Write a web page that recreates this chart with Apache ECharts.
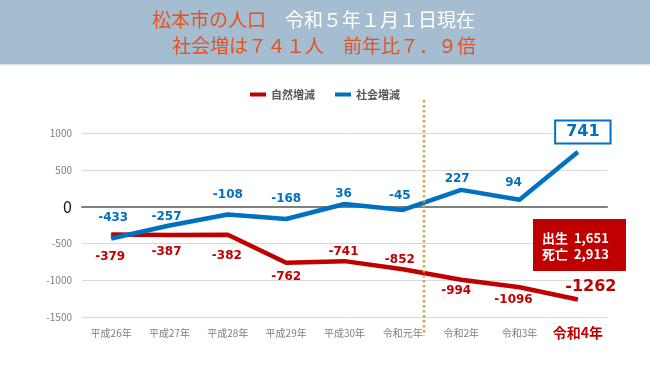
<!DOCTYPE html>
<html><head><meta charset="utf-8">
<script src="https://cdn.jsdelivr.net/npm/echarts@6/dist/echarts.min.js"></script>
<style>html,body{margin:0;padding:0;background:#fff}#c{width:650px;height:365px}</style>
</head><body><div id="c"></div>
<script>
// ---- data ----
const categories = ['平成26年','平成27年','平成28年','平成29年','平成30年','令和元年','令和2年','令和3年','令和4年'];
const naturalChange = [-379, -387, -382, -762, -741, -852, -994, -1096, -1262];
const socialChange = [-433, -257, -108, -168, 36, -45, 227, 94, 741];
const yMin = -1500, yMax = 1000, yInterval = 500;
const seriesNames = ['自然増減', '社会増減'];
const birthsText = '1,651';
const deathsText = '2,913';
const titleLine1a = '松本市の人口';
const titleLine1b = '令和５年１月１日現在';
const titleLine2 = '社会増は７４１人　前年比７．９倍';
const dividerAt = 5.363;           // position (in category index units) of the dotted divider
const dividerSpan = [1450, -1750]; // vertical extent of the divider in axis units

// ---- styles (label offsets, not data) ----
const blueOffsets = [[2,-21],[-3,-9],[0,-20],[0,-20],[-1,-10],[-3,-14],[-4,-11],[-6,-17],[5,-20]];
const redOffsets  = [[-1,22],[-3,17],[-1,21],[0,14],[-1,-9],[-3,-9],[-5,11],[-6,13],[13,-13]];
const RED = '#c00000', BLUE = '#0070c0';
const NUMFONT = 'DejaVu Sans';
const CJK = '"Noto Sans CJK JP"';

const chart = echarts.init(document.getElementById('c'), null, {renderer:'canvas'});

function labelItems(values, offsets, color, lastStyle) {
  return values.map((v, i) => {
    const lab = {show:true, position:'inside', offset:offsets[i], color:color,
      fontFamily:NUMFONT, fontWeight:'bold', fontSize:12};
    if (i === values.length - 1 && lastStyle) Object.assign(lab, lastStyle);
    return {value:v, label:lab};
  });
}

const option = {
  animation:false,
  textStyle:{fontFamily:CJK},
  legend:{
    top:84, left:'center', data:seriesNames, icon:'rect', itemWidth:16, itemHeight:4, itemGap:20,
    textStyle:{color:'#595959', fontSize:11, fontWeight:'bold', fontFamily:CJK}
  },
  grid:{left:82, right:43, top:133, bottom:48},
  xAxis:[
    {type:'category', data:categories.map((c,i)=> i===categories.length-1 ?
        {value:c, textStyle:{color:RED, fontSize:14, fontWeight:'bold', fontFamily:CJK, lineHeight:14}} : c),
     boundaryGap:true,
     axisLabel:{color:'#7f7f7f', fontSize:10, lineHeight:14, margin:9, fontFamily:CJK, interval:0},
     axisTick:{show:false},
     axisLine:{show:true, onZero:true, lineStyle:{color:'#808080', width:2}}},
    {type:'value', min:-0.5, max:categories.length-0.5, show:false}
  ],
  yAxis:{type:'value', min:yMin, max:yMax, interval:yInterval,
     axisLine:{show:false}, axisTick:{show:false},
     splitLine:{lineStyle:{color:'#d9d9d9', width:1}},
     axisLabel:{color:'#7f7f7f', fontSize:10, margin:10, fontFamily:CJK,
       formatter:v => v === 0 ? '{z|0}' : String(v),
       rich:{z:{fontSize:16, color:'#111', fontFamily:CJK}}}},
  series:[
    {name:seriesNames[0], type:'line', xAxisIndex:0,
     data:labelItems(naturalChange, redOffsets, RED, {fontSize:16}),
     symbol:'circle', symbolSize:1, showSymbol:true, color:RED,
     lineStyle:{color:RED, width:4.5}, itemStyle:{color:RED}, silent:true, z:3},
    {name:seriesNames[1], type:'line', xAxisIndex:0,
     data:labelItems(socialChange, blueOffsets, BLUE,
        {fontSize:16, backgroundColor:'#fff', borderColor:BLUE, borderWidth:2, padding:[3,10,2,10]}),
     symbol:'circle', symbolSize:1, showSymbol:true, color:BLUE,
     lineStyle:{color:BLUE, width:4.5}, itemStyle:{color:BLUE}, silent:true, z:4},
    {name:'divider', type:'line', xAxisIndex:1, clip:false, silent:true,
     data:[[dividerAt, dividerSpan[0]], [dividerAt, dividerSpan[1]]],
     symbol:'none', lineStyle:{color:'#c9a84e', width:2.5, type:[2.5,2.5], cap:'butt'}, z:5}
  ],
  graphic:[
    {type:'rect', shape:{x:0, y:0, width:650, height:64}, style:{fill:'#a4bdd0'}, z:-1},
    {type:'rect', shape:{x:0, y:64, width:650, height:1.5}, style:{fill:'#dde9f1'}, z:-1},
    {type:'text', x:152, y:20, style:{text:titleLine1a, fill:'#e6521f', font:'19px '+CJK, verticalAlign:'middle'}},
    {type:'text', x:285, y:20, style:{text:titleLine1b, fill:'#ffffff', font:'19px '+CJK, verticalAlign:'middle'}},
    {type:'text', x:172, y:46, style:{text:titleLine2, fill:'#e6521f', font:'19px '+CJK, verticalAlign:'middle'}},
    {type:'rect', shape:{x:533, y:219, width:93, height:52}, style:{fill:RED}, z:10},
    {type:'text', x:542, y:238, z:11, style:{text:'出生  ' + birthsText, fill:'#fff', font:'bold 13px '+CJK, verticalAlign:'middle'}},
    {type:'text', x:542, y:254, z:11, style:{text:'死亡  ' + deathsText, fill:'#fff', font:'bold 13px '+CJK, verticalAlign:'middle'}}
  ]
};
chart.setOption(option);
</script>
</body></html>
